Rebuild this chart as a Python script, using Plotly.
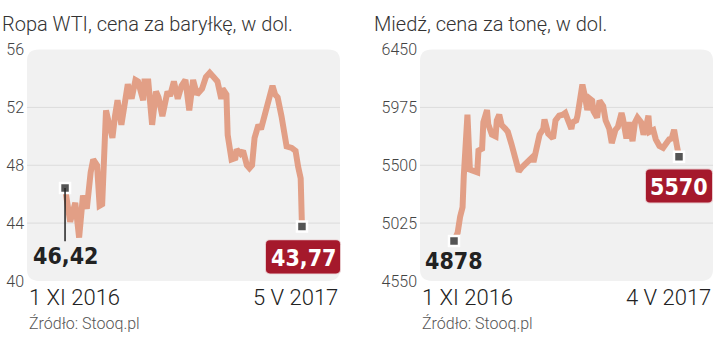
import plotly.graph_objects as go

W, H = 720, 341

# ---- data ----
oil_days = [0,4,8,11,14,17,20,22,25,27,29,32,34,37,39,41,44,47,49,52,55,57,61,62,65,68,71,73,76,80,
            82,85,88,91,94,97,100,103,107,110,113,117,119,122,123,126,127,130,133,134,137,139,142,144,146,148,
            151,153,155,158,162,164,166,169,170,173,177,180,182,184,185]
oil_vals = [46.42,44.1,45.4,43.0,45.9,45.0,47.5,48.4,48.0,45.2,45.3,51.8,51.0,49.9,51.4,52.5,50.8,52.5,53.6,52.6,
            53.9,53.8,52.5,53.8,53.8,50.8,53.1,52.7,51.4,53.1,52.8,53.8,52.6,53.5,53.9,51.8,53.9,52.9,53.3,54.1,
            54.4,54.0,53.8,52.6,53.3,52.9,50.1,48.4,48.5,49.1,48.8,49.0,48.0,47.8,48.0,49.9,50.8,50.5,51.1,52.1,
            53.5,52.9,52.7,51.4,50.8,49.3,49.2,49.0,47.9,47.1,43.77]
cu_days = [0,3,5,7,8,11,13,16,19,20,23,24,27,28,31,34,35,37,39,42,44,47,50,53,56,61,64,65,67,70,
           73,74,77,81,83,86,89,91,93,96,97,100,101,103,105,107,109,111,113,114,117,119,122,124,127,129,132,134,137,138,
           141,143,146,148,150,153,155,157,159,160,163,165,168,171,173,176,178,180,182,184]
cu_vals = [4878,4946,5077,5155,5411,5915,5465,5450,5442,5620,5636,5853,5954,5838,5752,5737,5868,5915,5830,5799,
           5775,5674,5543,5450,5488,5527,5566,5527,5620,5752,5799,5876,5760,5721,5868,5907,5915,5930,5876,5799,
           5853,5868,5907,6086,6163,6070,5954,6047,6031,5946,5892,6031,5985,5868,5799,5682,5791,5814,5930,5892,
           5721,5853,5698,5853,5892,5853,5752,5814,5907,5775,5790,5713,5659,5643,5674,5713,5720,5791,5674,5570]

oil_ticks = [40, 44, 48, 52, 56]
cu_ticks = [4550, 5025, 5500, 5975, 6450]
titles = ["Ropa WTI, cena za baryłkę, w dol.", "Miedź, cena za tonę, w dol."]
start_labels = ["1 XI 2016", "1 XI 2016"]
end_labels = ["5 V 2017", "4 V 2017"]
first_labels = ["46,42", "4878"]
last_labels = ["43,77", "5570"]
source = "Źródło: Stooq.pl"

LINE = "#e29f86"
BG = "#f1f1f1"
GRID = "#dcdcdc"
RED = "#a5192c"
TXT = "#333333"
FONT = "Roboto, Noto Sans, sans-serif"
BOLD = "DejaVu Sans Condensed, Roboto, sans-serif"


def px(x):
    return x / W


def py(y):
    return 1 - y / H


def rrect(x0, y0, x1, y1, r):
    X0, X1 = px(x0), px(x1)
    Y0, Y1 = py(y1), py(y0)
    rx, ry = r / W, r / H
    return (f"M {X0+rx},{Y0} L {X1-rx},{Y0} Q {X1},{Y0} {X1},{Y0+ry} "
            f"L {X1},{Y1-ry} Q {X1},{Y1} {X1-rx},{Y1} L {X0+rx},{Y1} "
            f"Q {X0},{Y1} {X0},{Y1-ry} L {X0},{Y0+ry} Q {X0},{Y0} {X0+rx},{Y0} Z")


panels = [
    dict(xa="x", ya="y", days=oil_days, vals=oil_vals, ticks=oil_ticks, l=27, r=340,
         xr=[-29.7, 214.7], yr=[40, 56], tx=0),
    dict(xa="x2", ya="y2", days=cu_days, vals=cu_vals, ticks=cu_ticks, l=420, r=713,
         xr=[-27.8, 211.8], yr=[4550, 6450], tx=372),
]
TOP, BOT = 43, 288

fig = go.Figure()
shapes = []
annotations = []

for i, p in enumerate(panels):
    fig.add_trace(go.Scatter(x=p["days"], y=p["vals"], xaxis=p["xa"], yaxis=p["ya"],
                             mode="lines", line=dict(color=LINE, width=6, shape="linear"),
                             hoverinfo="skip", showlegend=False))
    fig.add_trace(go.Scatter(x=[p["days"][0], p["days"][-1]], y=[p["vals"][0], p["vals"][-1]],
                             xaxis=p["xa"], yaxis=p["ya"], mode="markers",
                             marker=dict(symbol="square", size=10, color="#555555",
                                         line=dict(color="white", width=2.5)),
                             hoverinfo="skip", showlegend=False))
    shapes.append(dict(type="path", xref="paper", yref="paper", path=rrect(p["l"], TOP, p["r"], BOT, 12),
                       fillcolor=BG, line=dict(width=0), layer="below"))
    for t in p["ticks"][1:-1]:
        shapes.append(dict(type="line", xref=p["xa"] + " domain", yref=p["ya"], x0=0, x1=1, y0=t, y1=t,
                           line=dict(color=GRID, width=1), layer="below"))
    annotations.append(dict(text=titles[i], xref="paper", yref="paper", x=px(p["tx"]), y=py(16),
                            xanchor="left", yanchor="middle", showarrow=False,
                            font=dict(family=FONT, size=20, color=TXT, weight=300)))
    annotations.append(dict(text=start_labels[i], xref="paper", yref="paper", x=px(p["l"]), y=py(306),
                            xanchor="left", yanchor="middle", showarrow=False,
                            font=dict(family=FONT, size=22, color="#222222", weight=300)))
    annotations.append(dict(text=end_labels[i], xref="paper", yref="paper", x=px(p["r"]), y=py(306),
                            xanchor="right", yanchor="middle", showarrow=False,
                            font=dict(family=FONT, size=22, color="#222222", weight=300)))
    annotations.append(dict(text=source, xref="paper", yref="paper", x=px(p["l"]), y=py(333),
                            xanchor="left", yanchor="middle", showarrow=False,
                            font=dict(family=FONT, size=16, color="#555555", weight=300)))

annotations.append(dict(text="<b>" + first_labels[0] + "</b>", xref="paper", yref="paper", x=px(65), y=py(262),
                        xanchor="center", yanchor="middle", showarrow=False,
                        font=dict(family=BOLD, size=23, color="#222222")))
shapes.append(dict(type="line", xref="x", yref="y", x0=oil_days[0], x1=oil_days[0],
                   y0=40 + (288 - 246) / (245 / 16), y1=oil_vals[0], line=dict(color="#222222", width=1.5)))
annotations.append(dict(text="<b>" + first_labels[1] + "</b>", xref="paper", yref="paper", x=px(454), y=py(267),
                        xanchor="center", yanchor="middle", showarrow=False,
                        font=dict(family=BOLD, size=23, color="#222222")))

boxes = [(266, 245, 340, 280), (646, 170, 712, 205)]
for (x0, y0, x1, y1), lab in zip(boxes, last_labels):
    shapes.append(dict(type="path", xref="paper", yref="paper", path=rrect(x0 - 1, y0 - 1, x1 + 1, y1 + 1, 5),
                       fillcolor="#e8c9cc", line=dict(width=0)))
    shapes.append(dict(type="path", xref="paper", yref="paper", path=rrect(x0, y0, x1, y1, 4),
                       fillcolor=RED, line=dict(width=0)))
    annotations.append(dict(text="<b>" + lab + "</b>", xref="paper", yref="paper", x=px((x0 + x1) / 2),
                            y=py((y0 + y1) / 2 + 1), xanchor="center", yanchor="middle", showarrow=False,
                            font=dict(family=BOLD, size=23, color="white")))

ydom = [py(BOT), py(TOP)]
ax_common = dict(showgrid=False, zeroline=False, showline=False, ticks="", fixedrange=True)
tickfont = dict(family=FONT, size=16, color="#444444", weight=300)
fig.update_layout(
    width=W, height=H, margin=dict(l=0, r=0, t=0, b=0),
    paper_bgcolor="white", plot_bgcolor="rgba(0,0,0,0)",
    xaxis=dict(domain=[px(27), px(340)], range=panels[0]["xr"], showticklabels=False, **ax_common),
    yaxis=dict(domain=ydom, range=panels[0]["yr"], tickvals=oil_ticks, anchor="x",
               tickfont=tickfont, ticklabelstandoff=2, **ax_common),
    xaxis2=dict(domain=[px(420), px(713)], range=panels[1]["xr"], showticklabels=False, anchor="y2", **ax_common),
    yaxis2=dict(domain=ydom, range=panels[1]["yr"], tickvals=cu_ticks, anchor="x2",
                tickfont=tickfont, ticklabelstandoff=2, **ax_common),
    shapes=shapes, annotations=annotations,
)

fig.write_html("out.html")
